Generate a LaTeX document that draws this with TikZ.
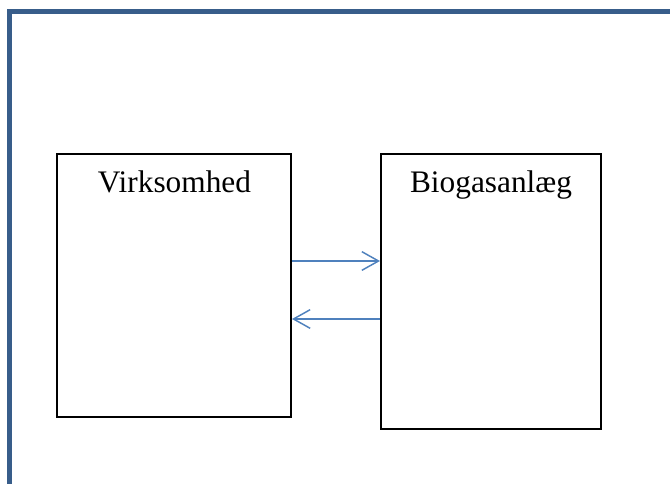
\documentclass[tikz,border=0pt]{standalone}
\usepackage{fontspec}
\setmainfont{Liberation Serif}
\usetikzlibrary{arrows.meta,positioning}

\definecolor{framecol}{RGB}{56,93,138}
\definecolor{flowcol}{RGB}{79,129,189}

\tikzset{
	party/.style={draw=black, line width=1.5pt, inner sep=0pt},
	caption/.style={anchor=base, inner sep=0pt, font=\fontsize{23.5}{28}\selectfont},
	flow/.style={draw=flowcol, line width=1.1pt, -{Straight Barb[length=12.5pt,width=14pt,line width=1.1pt]}}
}

\begin{document}
\begin{tikzpicture}[x=0.75pt,y=-0.75pt]
				\clip (0,0) rectangle (670,484);
				\useasboundingbox (0,0) rectangle (670,484);
				% outer frame, only top and left are visible
				\draw[framecol, line width=3.75pt] (9.5,500) -- (9.5,11.5) -- (690,11.5);
				% the two parties
				\node[party, minimum width=175.5pt, minimum height=197.25pt] (virk) at (174,285.5) {};
				\node[party, minimum width=165pt, minimum height=206.25pt] (bio) at (491,291.5) {};
				\node[caption] (virktext) at (174.5,193) {Virksomhed};
				\node[caption] (biotext) at (491,193) {Biogasanlæg};
				% flows between them
				\coordinate (upper) at (0,261);
				\coordinate (lower) at (0,319);
				\draw[flow] (virk.east |- upper) -- (bio.west |- upper);
				\draw[flow] (bio.west |- lower) -- (virk.east |- lower);
			\end{tikzpicture}
\end{document}
